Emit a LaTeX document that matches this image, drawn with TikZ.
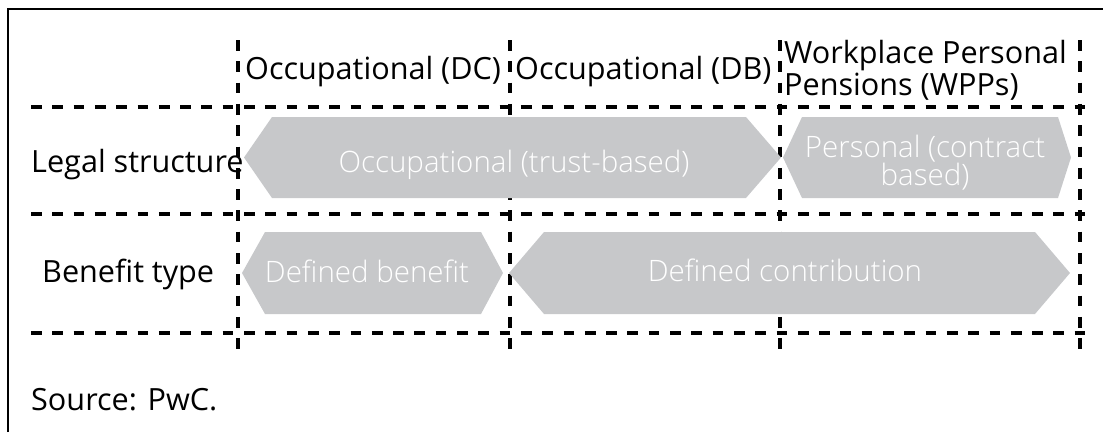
\documentclass[tikz,border=0pt]{standalone}
\usepackage{fontspec}
\setmainfont{Open Sans}
\IfFontExistsTF{Open Sans Light}{\newfontfamily\boxfont{Open Sans Light}}{\newfontfamily\boxfont{Open Sans}}
\definecolor{hexgray}{HTML}{C7C8CA}
\begin{document}
\begin{tikzpicture}[x=1pt,y=-1pt,
  gridline/.style={line width=4pt, dash pattern=on 10.7pt off 10.6pt},
  hexfill/.style={fill=hexgray},
  lbl/.style={font=\fontsize{30.6}{32}\selectfont, text=black, inner sep=0pt, anchor=base west, align=left},
  boxtxt/.style={font=\boxfont\fontsize{29.5}{28}\selectfont, text=white, inner sep=0pt, anchor=base, align=center}]
\useasboundingbox (0,0) rectangle (1103,432);
% frame
\draw[line width=1.5pt] (8,432) -- (8,9) -- (1103,9);
% grid
\coordinate (h1a) at (31,107); \coordinate (h1b) at (1087,107);
\coordinate (h2a) at (31,214); \coordinate (h2b) at (1087,214);
\coordinate (h3a) at (31,333); \coordinate (h3b) at (1087,333);
\draw[gridline] (h1a) -- (h1b);
\draw[gridline] (h2a) -- (h2b);
\draw[gridline] (h3a) -- (h3b);
\foreach \xx in {238,510,780,1080} {\draw[gridline] (\xx,40) -- (\xx,349);}
% hexagons (drawn over the vertical lines)
\fill[hexfill] (244,157.5) -- (272,117) -- (746,117) -- (781,157.5) -- (746,198) -- (272,198) -- cycle;
\fill[hexfill] (783,157.5) -- (802,117) -- (1058,117) -- (1071,157.5) -- (1058,198) -- (802,198) -- cycle;
\fill[hexfill] (242,273) -- (265,232) -- (481,232) -- (503,273) -- (481,314) -- (265,314) -- cycle;
\fill[hexfill] (509,273) -- (544,232) -- (1035,232) -- (1070,273) -- (1035,314) -- (544,314) -- cycle;
% headers
\node[lbl] (hdc) at (245,79) {Occupational (DC)};
\node[lbl] (hdb) at (515,79) {Occupational (DB)};
\node[lbl] (hwpp) at (784,95) {Workplace Personal\\Pensions (WPPs)};
% row labels
\node[lbl] (legal) at (31,172) {Legal structure};
\node[lbl] (benefit) at (42,282) {Benefit type};
\node[lbl] (source) at (31,410) {Source: PwC.};
% box texts
\node[boxtxt] (occ) at (514,172) {Occupational (trust-based)};
\node[boxtxt] (pers) at (925,185) {Personal (contract\\based)};
\node[boxtxt] (db) at (367,282) {Defined benefit};
\node[boxtxt] (dc) at (785,281) {Defined contribution};
\end{tikzpicture}
\end{document}
